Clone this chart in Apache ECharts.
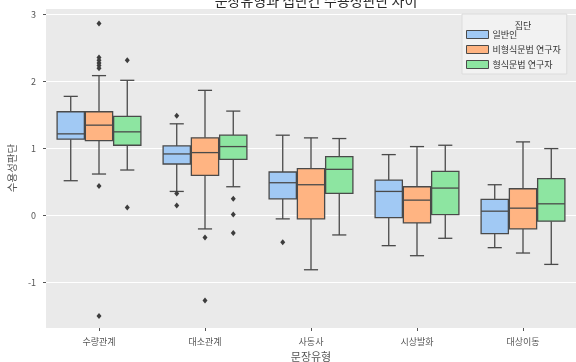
<!DOCTYPE html>
<html>
<head>
<meta charset="utf-8">
<script src="https://cdn.jsdelivr.net/npm/echarts@6/dist/echarts.min.js"></script>
<style>
  html, body { margin: 0; padding: 0; background: #fff; }
  #chart { width: 576px; height: 362px; }
</style>
</head>
<body>
<div id="chart"></div>
<script>
// Sentence types on the x axis
const categories = ['수량관계', '대소관계', '사동사', '시상발화', '대상이동'];
// Respondent groups (hue)
const groups = ['일반인', '비형식문법 연구자', '형식문법 연구자'];
const groupColors = ['#a1c9f4', '#ffb482', '#8de5a1'];

// Per category: [lower whisker, Q1, median, Q3, upper whisker]
const statsGeneral = [
  [0.52, 1.14, 1.22, 1.55, 1.78],
  [0.36, 0.77, 0.92, 1.04, 1.37],
  [-0.05, 0.25, 0.49, 0.65, 1.20],
  [-0.45, -0.03, 0.36, 0.53, 0.91],
  [-0.48, -0.27, 0.065, 0.24, 0.46]
];
const statsInformal = [
  [0.62, 1.12, 1.35, 1.55, 2.09],
  [-0.20, 0.60, 0.94, 1.16, 1.87],
  [-0.81, -0.05, 0.46, 0.70, 1.16],
  [-0.60, -0.11, 0.23, 0.43, 1.03],
  [-0.56, -0.20, 0.11, 0.40, 1.10]
];
const statsFormal = [
  [0.68, 1.05, 1.25, 1.48, 2.02],
  [0.43, 0.84, 1.03, 1.20, 1.56],
  [-0.29, 0.33, 0.69, 0.88, 1.15],
  [-0.34, 0.015, 0.41, 0.66, 1.05],
  [-0.73, -0.085, 0.175, 0.55, 1.00]
];

// Outliers: [category index, value]
const outGeneral = [[1, 1.49], [1, 0.33], [1, 0.15], [2, -0.40]];
const outInformal = [
  [0, 2.87], [0, 2.36], [0, 2.32], [0, 2.28], [0, 2.24], [0, 2.20],
  [0, 0.44], [0, -1.50], [1, -0.33], [1, -1.27]
];
const outFormal = [[0, 2.32], [0, 0.12], [1, 0.25], [1, 0.015], [1, -0.26]];

const yTicks = [-1, 0, 1, 2, 3];

const FONT = '"Noto Sans CJK KR", "Noto Sans", sans-serif';
const EDGE = '#4a4a4a';
const TEXT = '#555555';

const allStats = [statsGeneral, statsInformal, statsFormal];
const allOutliers = [outGeneral, outInformal, outFormal];

// Each group's box sits in its own slot; the three slots fill 80% of a band
const SLOT = 0.8 / groups.length;

function boxRenderer(hue) {
  return function (params, api) {
    const ci = api.value(0);
    const band = api.size([1, 0])[0];
    const w = band * SLOT;
    const cx = api.coord([ci, 0])[0] + (hue - 1) * w;
    const py = (i) => api.coord([ci, api.value(i)])[1];
    const yMin = py(1), yQ1 = py(2), yMed = py(3), yQ3 = py(4), yMax = py(5);
    const half = w / 2 - 0.5;
    const cap = w / 4;
    const line = { stroke: EDGE, lineWidth: 1.3 };
    return {
      type: 'group',
      children: [
        { type: 'line', shape: { x1: cx, y1: yQ1, x2: cx, y2: yMin }, style: line },
        { type: 'line', shape: { x1: cx, y1: yQ3, x2: cx, y2: yMax }, style: line },
        { type: 'line', shape: { x1: cx - cap, y1: yMin, x2: cx + cap, y2: yMin }, style: line },
        { type: 'line', shape: { x1: cx - cap, y1: yMax, x2: cx + cap, y2: yMax }, style: line },
        { type: 'rect', shape: { x: cx - half, y: yQ3, width: half * 2, height: yQ1 - yQ3 },
          style: { fill: groupColors[hue], stroke: EDGE, lineWidth: 1.3 } },
        { type: 'line', shape: { x1: cx - half, y1: yMed, x2: cx + half, y2: yMed }, style: line }
      ]
    };
  };
}

const series = [];
groups.forEach((g, hue) => {
  series.push({
    name: g,
    type: 'custom',
    renderItem: boxRenderer(hue),
    itemStyle: { color: groupColors[hue] },
    encode: { x: 0, y: [1, 2, 3, 4, 5] },
    data: allStats[hue].map((s, i) => [i].concat(s)),
    z: 2
  });
});
// Outlier diamonds on a hidden linear x axis spanning the same bands
groups.forEach((g, hue) => {
  series.push({
    name: g + ' 이상치',
    type: 'scatter',
    xAxisIndex: 1,
    symbol: 'diamond',
    symbolSize: [5, 6],
    itemStyle: { color: '#3d3d3d', opacity: 1 },
    data: allOutliers[hue].map((p) => [p[0] + (hue - 1) * SLOT, p[1]]),
    z: 3
  });
});

const chart = echarts.init(document.getElementById('chart'), null, { renderer: 'canvas' });
chart.setOption({
  animation: false,
  backgroundColor: '#ffffff',
  textStyle: { fontFamily: FONT },
  title: [
    {
      text: '문장유형과 집단간 수용성판단 차이',
      left: 311, top: -11, textAlign: 'center',
      textStyle: { fontFamily: FONT, fontSize: 14, fontWeight: 'normal', color: '#2a2a2a' }
    },
    {
      text: '집단',
      left: 518, top: 16, textAlign: 'center',
      textStyle: { fontFamily: FONT, fontSize: 9, fontWeight: 'normal', color: '#333' }
    }
  ],
  legend: {
    data: groups.map((g, i) => ({
      name: g, icon: 'rect',
      itemStyle: { color: groupColors[i], borderColor: EDGE, borderWidth: 1 }
    })),
    orient: 'vertical',
    left: 462, top: 14,
    padding: [16, 6, 5, 4],
    itemGap: 6,
    itemWidth: 22, itemHeight: 8,
    backgroundColor: '#f2f2f2',
    borderColor: '#dcdcdc', borderWidth: 1,
    textStyle: { fontFamily: FONT, fontSize: 9, color: '#333', padding: [0, 0, 0, -1] },
    selectedMode: false
  },
  grid: {
    left: 46, right: 0, top: 8, bottom: 34,
    containLabel: false,
    outerBoundsMode: 'none',
    show: true, backgroundColor: '#eaeaea', borderWidth: 0
  },
  xAxis: [
    {
      type: 'category',
      data: categories,
      position: 'bottom',
      name: '문장유형',
      nameLocation: 'middle',
      nameGap: 20,
      nameTextStyle: { fontFamily: FONT, fontSize: 11, color: TEXT },
      axisLine: { show: false, onZero: false },
      axisTick: { show: true, alignWithLabel: true, length: 3, lineStyle: { color: TEXT } },
      axisLabel: { fontFamily: FONT, fontSize: 9, color: TEXT, margin: 9 },
      splitLine: { show: false }
    },
    {
      type: 'value',
      min: -0.5, max: categories.length - 0.5,
      show: false,
      axisLine: { onZero: false }
    }
  ],
  yAxis: {
    type: 'value',
    position: 'left',
    min: -1.68, max: 3.1,
    splitNumber: 5,
    minInterval: 1, maxInterval: 1,
    name: '수용성판단',
    nameLocation: 'middle',
    nameRotate: 90,
    nameGap: 28,
    nameTextStyle: { fontFamily: FONT, fontSize: 10.5, color: TEXT },
    axisLine: { show: false, onZero: false },
    axisTick: { show: true, length: 3, lineStyle: { color: TEXT } },
    axisLabel: {
      fontFamily: FONT, fontSize: 9, color: TEXT, margin: 10,
      showMinLabel: false, showMaxLabel: false,
      formatter: (v) => (yTicks.indexOf(v) >= 0 ? String(v) : '')
    },
    splitLine: { show: true, lineStyle: { color: '#ffffff', width: 1.2 } }
  },
  series: series
});
</script>
</body>
</html>
